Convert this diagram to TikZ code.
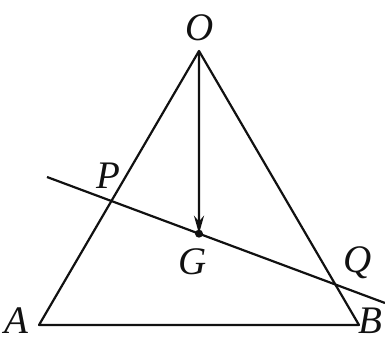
\documentclass[tikz,border=0pt]{standalone}
\usepackage{fontspec}
\setmainfont{Liberation Serif}
\usepackage{xcolor}
\usepackage{tikz}
\usetikzlibrary{arrows.meta,positioning,calc}
\definecolor{ink}{HTML}{111111}
\tikzset{
  edge/.style  ={draw=ink,line width=1.1pt,line join=round},
  secant/.style={draw=ink,line width=1.1pt},
  vec/.style   ={-{Stealth[length=9pt,width=5pt]},line width=1.1pt,draw=ink},
  lbl/.style   ={inner sep=0pt,text=ink,font=\fontsize{19.5}{22}\selectfont\itshape},
  dot/.style   ={circle,fill=ink,inner sep=0pt,minimum size=4pt}
}
\begin{document}
\begin{tikzpicture}[x=0.5pt,y=0.5pt]
        \useasboundingbox (0,0) rectangle (385,343);
        \coordinate (O) at (199,292);
        \coordinate (A) at (39,18);
        \coordinate (B) at (359,18);
        \coordinate (G) at (barycentric cs:O=1,A=1,B=1);
        \coordinate (L1) at (47,166);
        \coordinate (L2) at (385,40);
        \coordinate (P) at (intersection of L1--L2 and O--A);
        \coordinate (Q) at (intersection of L1--L2 and O--B);
        \draw[edge] (A) -- (O) -- (B) -- cycle;
        \draw[secant] (L1) -- (L2);
        \draw[vec] (O) -- (G);
        \node[dot] (g) at (G) {};
        \node[lbl,anchor=base] (lO) at ($(O)+(0.5pt,5pt)$) {O};
        \node[lbl,anchor=base] (lP) at ($(P)+(-1.5pt,6pt)$) {P};
        \node[lbl,anchor=base] (lG) at ($(G)+(-3pt,-20.5pt)$) {G};
        \node[lbl,anchor=base] (lQ) at ($(Q)+(11pt,6pt)$) {Q};
        \node[lbl,anchor=base east] (lA) at ($(A)+(-5pt,-4pt)$) {A};
        \node[lbl,anchor=base east] (lB) at ($(B)+(12pt,-4pt)$) {B};
      \end{tikzpicture}
\end{document}
